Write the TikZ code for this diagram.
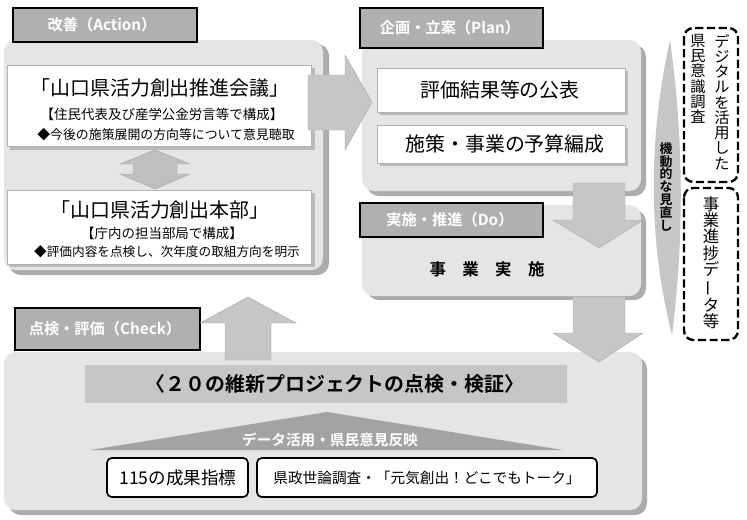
\documentclass[tikz,border=0pt]{standalone}
\usepackage{fontspec}
\setmainfont{Noto Sans CJK JP}[BoldFont={Noto Sans CJK JP Bold}]
\usetikzlibrary{positioning}
\newcommand{\fsz}[1]{\fontsize{#1}{#1}\selectfont}

\begin{document}
\begin{tikzpicture}[x=0.03cm,y=-0.03cm,
  panel/.style={fill=gray!20,rounded corners=10pt},
  drop/.style={fill=gray!65,rounded corners=10pt},
  tagbox/.style={draw=black,line width=1.8pt,fill=gray!62},
  tagtext/.style={text=white,font=\bfseries\fsz{13}},
  card/.style={fill=white,draw=gray!60,line width=0.5pt},
  cardshadow/.style={fill=gray!55},
  big/.style={font=\fsz{17}},
  blockarrow/.style={fill=gray!45,draw=gray!65},
  pill/.style={draw=black,line width=1.4pt,rounded corners=4pt,fill=white},
  dashbox/.style={draw=black,line width=2pt,dash pattern=on 7pt off 3pt,rounded corners=8pt,fill=white},
  vcol/.style={align=center,inner sep=0pt,anchor=north}]
\useasboundingbox (0,0) rectangle (747,519);
\fill[white] (0,0) rectangle (747,519);

% Action
\fill[drop] (9,44) rectangle (329,275);
\fill[panel] (4,40) rectangle (323,270);
\fill[cardshadow] (10,68) rectangle (315,150);
\draw[card] (7,65) rectangle (311,146);
\node[big] (conf) at (160,88) {「山口県活力創出推進会議」};
\node[font=\fsz{11.5}] (confsub) at (162,114) {【住民代表及び産学公金労言等で構成】};
\node[font=\fsz{11}] (confnote) at (166,135) {◆今後の施策展開の方向等について意見聴取};
\fill[gray!50,draw=gray!70] (155,150)--(120,164)--(133,164)--(133,174)--(120,174)--(155,189)
  --(190,174)--(177,174)--(177,164)--(190,164)--cycle;
\fill[cardshadow] (10,193) rectangle (315,267);
\draw[card] (7,190) rectangle (311,264);
\node[big] (hq) at (160,210) {「山口県活力創出本部」};
\node[font=\fsz{11.5}] (hqsub) at (162,233) {【庁内の担当部局で構成】};
\node[font=\fsz{10.8}] (hqnote) at (167,252) {◆評価内容を点検し、次年度の取組方向を明示};
\draw[tagbox] (13,8) rectangle (197,42);
\node[tagtext] (act) at (102,25) {改善（Action）};

% Plan
\fill[drop] (367,45) rectangle (646,196);
\fill[panel] (362,40) rectangle (641,191);
\fill[cardshadow] (380,71) rectangle (628,115);
\draw[card] (377,68) rectangle (625,112);
\node[big] (pub) at (500,90) {評価結果等の公表};
\fill[cardshadow] (380,128) rectangle (628,166);
\draw[card] (377,125) rectangle (625,163);
\node[big] (budget) at (505,144) {施策・事業の予算編成};
\draw[tagbox] (360,8) rectangle (543,48);
\node[tagtext] (plan) at (450,28) {企画・立案（Plan）};

% Do
\fill[drop] (367,210) rectangle (646,300);
\fill[panel] (362,205) rectangle (641,296);
\node[font=\bfseries\fsz{14}] (exec) at (487,269) {事\quad 業\quad 実\quad 施};
\draw[tagbox] (360,203) rectangle (543,237);
\node[tagtext] (do) at (450,220) {実施・推進（Do）};

% Check
\fill[drop] (9,357) rectangle (647,515);
\fill[panel] (4,352) rectangle (642,510);
\fill[gray!45] (85,365) rectangle (567,403);
\node[font=\bfseries\fsz{17}] (proj) at (335,384) {〈２０の維新プロジェクトの点検・検証〉};
\fill[gray!72] (90,450)--(327,412)--(563,450)--cycle;
\node[text=white,font=\bfseries\fsz{12.5}] (data) at (330,440) {データ活用・県民意見反映};
\draw[pill] (107,458) rectangle (248,497);
\node[font=\fsz{15}] (idx) at (178,478) {115の成果指標};
\draw[pill] (257,458) rectangle (597,497);
\node[font=\fsz{12.5}] (poll) at (427,478) {県政世論調査・「元気創出！どこでもトーク」};
\draw[tagbox] (15,308) rectangle (200,350);
\node[tagtext] (chk) at (105,329) {点検・評価（Check）};

% block arrows
\draw[blockarrow] (308,75)--(345,75)--(345,55)--(372,102)--(345,150)--(345,130)--(308,130)--cycle;
\draw[blockarrow] (573,183)--(625,183)--(625,220)--(643,220)--(599,248)--(553,220)--(573,220)--cycle;
\draw[blockarrow] (573,297)--(625,297)--(625,333)--(643,333)--(599,362)--(553,333)--(573,333)--cycle;
\draw[blockarrow] (225,360)--(225,323)--(200,323)--(248,297)--(296,323)--(271,323)--(271,360)--cycle;

% right side
\fill[gray!45] (670,40) .. controls (648,140) and (648,240) .. (672,335)
  .. controls (684,240) and (684,140) .. (670,40);
\node[vcol,font=\bfseries\fsz{11}] (review) at (666,142) {機\\動\\的\\な\\見\\直\\し};
\draw[dashbox] (684,28) rectangle (738,182);
\node[vcol,font=\fsz{13}] (digital) at (722,34) {デ\\ジ\\タ\\ル\\を\\活\\用\\し\\た};
\node[vcol,font=\fsz{13}] (survey) at (698,34) {県\\民\\意\\識\\調\\査};
\draw[dashbox] (684,188) rectangle (738,340);
\node[vcol,font=\fsz{14}] (progress) at (711,196) {事\\業\\進\\捗\\デ\\\rotatebox[origin=c]{90}{ー}\\タ\\等};
\end{tikzpicture}
\end{document}
